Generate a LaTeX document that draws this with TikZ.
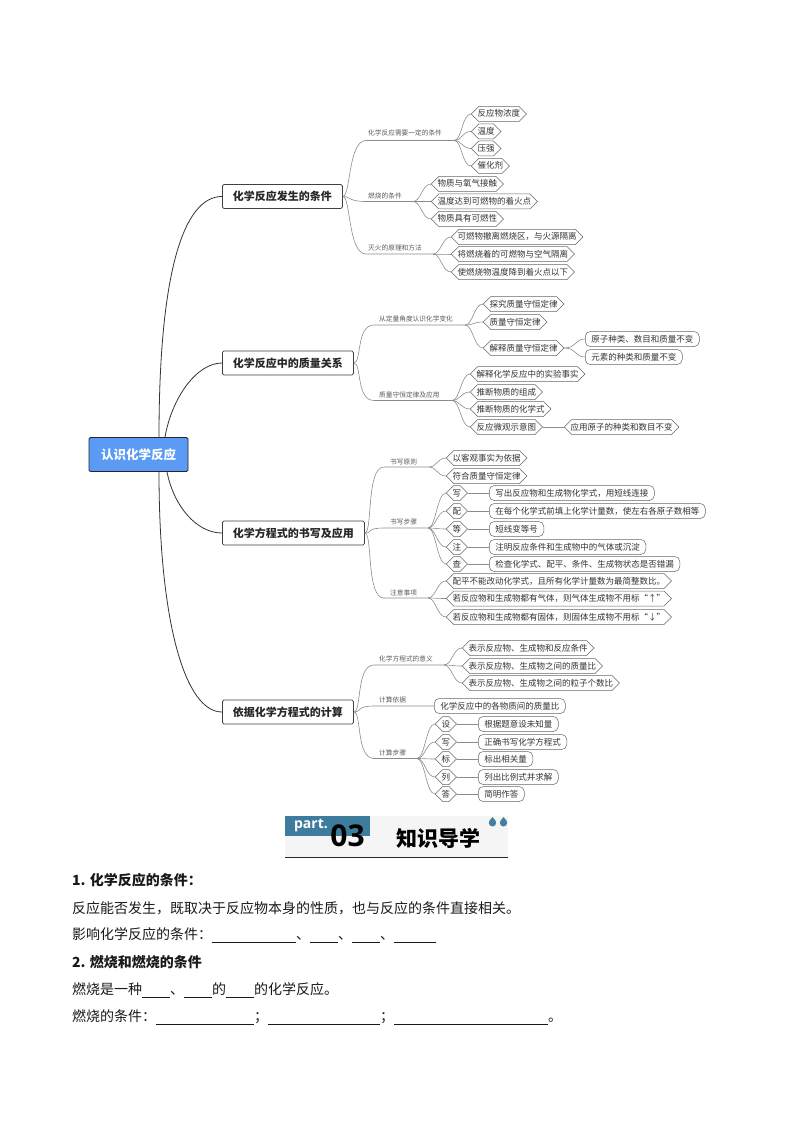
\documentclass[tikz,border=0pt]{standalone}
\usepackage{fontspec}
\setmainfont{Noto Sans CJK SC}
\newfontfamily\partfont{Open Sans}
\usetikzlibrary{shapes.misc}
\newcommand{\blank}[1]{\rule[-2.5pt]{#1pt}{0.6pt}}
\begin{document}
\begin{tikzpicture}[x=1pt,y=-1pt,
 rootbox/.style={draw=black!85,line width=0.9pt,rounded corners=1.5pt,fill=rootblue,text=white,font=\fontsize{12.5}{14}\selectfont\bfseries,minimum width=99pt,minimum height=34pt,inner sep=0pt},
 mainbox/.style={draw=black!75,line width=0.8pt,rounded corners=1.5pt,fill=white,text=black!85,font=\fontsize{11}{13}\selectfont\bfseries,minimum height=24pt,inner xsep=10.5pt,inner ysep=0pt,anchor=west},
 hexleaf/.style={draw=black!60,line width=0.5pt,fill=white,text=black!80,chamfered rectangle,chamfered rectangle xsep=4pt,chamfered rectangle ysep=3.5pt,font=\fontsize{8.5}{10}\selectfont,text height=7pt,text depth=1pt,inner xsep=2.4pt,inner ysep=0pt,anchor=west},
 pillleaf/.style={draw=black!60,line width=0.5pt,fill=white,text=black!80,rounded corners=5pt,font=\fontsize{8.5}{10}\selectfont,minimum height=15pt,text height=7pt,text depth=1pt,inner xsep=6pt,inner ysep=0pt,anchor=west},
 branch/.style={text=black!65,font=\fontsize{6.7}{8}\selectfont,inner sep=0pt,anchor=west},
 trunk/.style={draw=black!80,line width=0.8pt},
 twig/.style={draw=black!45,line width=0.6pt},
 para/.style={text=black!90,font=\fontsize{14}{16}\selectfont,inner sep=0pt,anchor=west}]
\definecolor{rootblue}{HTML}{5B9BF5}
\definecolor{partblue}{HTML}{3E7C9E}
\definecolor{dropblue}{HTML}{447FA3}
\useasboundingbox (0,0) rectangle (794,1123);
% centre and the four main boxes
\node[rootbox] (root) at (138.5,454.5) {认识化学反应};
\node[mainbox] (mA) at (222,196.5) {化学反应发生的条件};
\node[mainbox] (mB) at (222,363) {化学反应中的质量关系};
\node[mainbox] (mC) at (222,533) {化学方程式的书写及应用};
\node[mainbox] (mD) at (222,712) {依据化学方程式的计算};
\draw[trunk] ([xshift=20.5pt]root.north) .. controls +(0,-170) and +(-37,0) .. (mA.west);
\draw[trunk] ([xshift=26.5pt]root.north) .. controls +(7,-40) and +(-25,0) .. (mB.west);
\draw[trunk] ([xshift=28.5pt]root.south) .. controls +(7,35) and +(-25,0) .. (mC.west);
\draw[trunk] ([xshift=20.5pt]root.south) .. controls +(0,150) and +(-37,0) .. (mD.west);
% first group
\node[branch] (a1) at (368,133) {化学反应需要一定的条件};
\coordinate (a1s) at (366,140.5); \coordinate (a1e) at (454,140.5);
\node[hexleaf] (a11) at (471,114) {反应物浓度};
\node[hexleaf] (a12) at (471,131.5) {温度};
\node[hexleaf] (a13) at (471,148.5) {压强};
\node[hexleaf] (a14) at (471,166) {催化剂};
\node[branch] (a2) at (368,196) {燃烧的条件};
\coordinate (a2s) at (366,201.5); \coordinate (a2e) at (413,201.5);
\node[hexleaf] (a21) at (431,184) {物质与氧气接触};
\node[hexleaf] (a22) at (431,201.5) {温度达到可燃物的着火点};
\node[hexleaf] (a23) at (431,219) {物质具有可燃性};
\node[branch] (a3) at (368,248) {灭火的原理和方法};
\coordinate (a3s) at (366,254); \coordinate (a3e) at (433,254);
\node[hexleaf] (a31) at (451,237) {可燃物撤离燃烧区，与火源隔离};
\node[hexleaf] (a32) at (451,254) {将燃烧着的可燃物与空气隔离};
\node[hexleaf] (a33) at (451,272) {使燃烧物温度降到着火点以下};
% second group
\node[branch] (b1) at (379,318.5) {从定量角度认识化学变化};
\coordinate (b1s) at (374,325); \coordinate (b1e) at (465,325);
\node[hexleaf] (b11) at (483,304) {探究质量守恒定律};
\node[hexleaf] (b12) at (483,322) {质量守恒定律};
\node[hexleaf] (b13) at (483,348) {解释质量守恒定律};
\node[pillleaf] (b131) at (585,339) {原子种类、数目和质量不变};
\node[pillleaf] (b132) at (585,357) {元素的种类和质量不变};
\node[branch] (b2) at (379,395) {质量守恒定律及应用};
\coordinate (b2s) at (374,400.5); \coordinate (b2e) at (452,400.5);
\node[hexleaf] (b21) at (470,374) {解释化学反应中的实验事实};
\node[hexleaf] (b22) at (470,392) {推断物质的组成};
\node[hexleaf] (b23) at (470,409) {推断物质的化学式};
\node[hexleaf] (b24) at (470,427) {反应微观示意图};
\node[hexleaf] (b241) at (564,427) {应用原子的种类和数目不变};
% third group
\node[branch] (c1) at (390,462) {书写原则};
\coordinate (c1s) at (384,467); \coordinate (c1e) at (429,467);
\node[hexleaf] (c11) at (446,458) {以客观事实为依据};
\node[hexleaf] (c12) at (446,476) {符合质量守恒定律};
\node[branch] (c2) at (390,522) {书写步骤};
\coordinate (c2s) at (384,528); \coordinate (c2e) at (428,528);
\node[hexleaf] (c21) at (446,493) {写};
\node[hexleaf] (c22) at (446,511) {配};
\node[hexleaf] (c23) at (446,529) {等};
\node[hexleaf] (c24) at (446,547) {注};
\node[hexleaf] (c25) at (446,564) {查};
\node[pillleaf] (c211) at (489,493) {写出反应物和生成物化学式，用短线连接};
\node[pillleaf] (c221) at (489,511) {在每个化学式前填上化学计量数，使左右各原子数相等};
\node[pillleaf] (c231) at (489,529) {短线变等号};
\node[pillleaf] (c241) at (489,547) {注明反应条件和生成物中的气体或沉淀};
\node[pillleaf] (c251) at (489,564) {检查化学式、配平、条件、生成物状态是否错漏};
\node[branch] (c3) at (390,593) {注意事项};
\coordinate (c3s) at (384,598); \coordinate (c3e) at (428,598);
\node[hexleaf] (c31) at (446,581) {配平不能改动化学式，且所有化学计量数为最简整数比。};
\node[hexleaf] (c32) at (446,598.5) {若反应物和生成物都有气体，则气体生成物不用标“↑”};
\node[hexleaf] (c33) at (446,617) {若反应物和生成物都有固体，则固体生成物不用标“↓”};
% fourth group
\node[branch] (d1) at (379,659) {化学方程式的意义};
\coordinate (d1s) at (374,665); \coordinate (d1e) at (444,665);
\node[hexleaf] (d11) at (462,648) {表示反应物、生成物和反应条件};
\node[hexleaf] (d12) at (462,666) {表示反应物、生成物之间的质量比};
\node[hexleaf] (d13) at (462,683) {表示反应物、生成物之间的粒子个数比};
\node[branch] (d2) at (379,700) {计算依据};
\coordinate (d2s) at (374,706);
\node[pillleaf] (d21) at (434,706) {化学反应中的各物质间的质量比};
\node[branch] (d3) at (379,753) {计算步骤};
\coordinate (d3s) at (374,758.5); \coordinate (d3e) at (417,758.5);
\node[hexleaf] (d31) at (435,724) {设};
\node[hexleaf] (d32) at (435,742) {写};
\node[hexleaf] (d33) at (435,759) {标};
\node[hexleaf] (d34) at (435,777) {列};
\node[hexleaf] (d35) at (435,794) {答};
\node[pillleaf] (d311) at (478,724) {根据题意设未知量};
\node[pillleaf] (d321) at (478,742) {正确书写化学方程式};
\node[pillleaf] (d331) at (478,759) {标出相关量};
\node[pillleaf] (d341) at (478,777) {列出比例式并求解};
\node[pillleaf] (d351) at (478,794) {简明作答};
% main boxes to the branch lines
\foreach \m/\s in {mA/a1,mA/a2,mA/a3,mB/b1,mB/b2,mC/c1,mC/c2,mC/c3,mD/d1,mD/d3}
 \draw[twig] (\m.east) .. controls +(8,0) and +(-18,0) .. (\s s) -- (\s e);
\draw[twig] (mD.east) .. controls +(8,0) and +(-18,0) .. (d2s) -- (d21.west);
% branch lines to the leaves
\foreach \s/\l in {a1/a11,a1/a12,a1/a13,a1/a14,a2/a21,a2/a22,a2/a23,a3/a31,a3/a32,a3/a33,
 b1/b11,b1/b12,b1/b13,b2/b21,b2/b22,b2/b23,b2/b24,c1/c11,c1/c12,c2/c21,c2/c22,c2/c23,c2/c24,c2/c25,
 c3/c31,c3/c32,c3/c33,d1/d11,d1/d12,d1/d13,d3/d31,d3/d32,d3/d33,d3/d34,d3/d35}
 \draw[twig] (\s e) .. controls +(8,0) and +(-9,0) .. (\l.west);
\draw[twig] (b13.east) .. controls +(12,0) and +(-10,0) .. (b131.west);
\draw[twig] (b13.east) .. controls +(12,0) and +(-10,0) .. (b132.west);
\foreach \l/\r in {b24/b241,c21/c211,c22/c221,c23/c231,c24/c241,c25/c251,d31/d311,d32/d321,d33/d331,d34/d341,d35/d351}
 \draw[twig] (\l.east) -- (\r.west);
% part banner
\fill[black!4] (285,816) rectangle (508,857);
\fill[partblue] (285,816) rectangle (370,836);
\draw[line width=1pt,black!85] (285,857) -- (508,857);
\node[text=white,inner sep=0pt,font=\partfont\bfseries\fontsize{14}{16}\selectfont] (partlabel) at (311,825.5) {part.};
\node[text=black,inner sep=0pt,font=\partfont\bfseries\fontsize{30}{32}\selectfont] (partnum) at (347.5,836) {03};
\node[text=black,inner sep=0pt,font=\fontsize{21}{23}\selectfont\bfseries] (parttitle) at (438,838) {知识导学};
\foreach \x in {492.5,503.5}{
 \fill[dropblue] (\x,822.8) circle[radius=3.7];
 \fill[dropblue] (\x-2.8,820.5) -- (\x,817) -- (\x+2.8,820.5) -- cycle;}
% text below
\node[para,font=\fontsize{14}{16}\selectfont\bfseries] (t1) at (72,880) {1. 化学反应的条件：};
\node[para] (t2) at (72,908) {反应能否发生，既取决于反应物本身的性质，也与反应的条件直接相关。};
\node[para] (t3) at (72,935) {影响化学反应的条件：\blank{84}、\blank{28}、\blank{28}、\blank{42}};
\node[para,font=\fontsize{14}{16}\selectfont\bfseries] (t4) at (72,962) {2. 燃烧和燃烧的条件};
\node[para] (t5) at (72,990) {燃烧是一种\blank{28}、\blank{28}的\blank{28}的化学反应。};
\node[para] (t6) at (72,1017) {燃烧的条件：\blank{98}；\blank{112}；\blank{154}。};
\end{tikzpicture}
\end{document}
